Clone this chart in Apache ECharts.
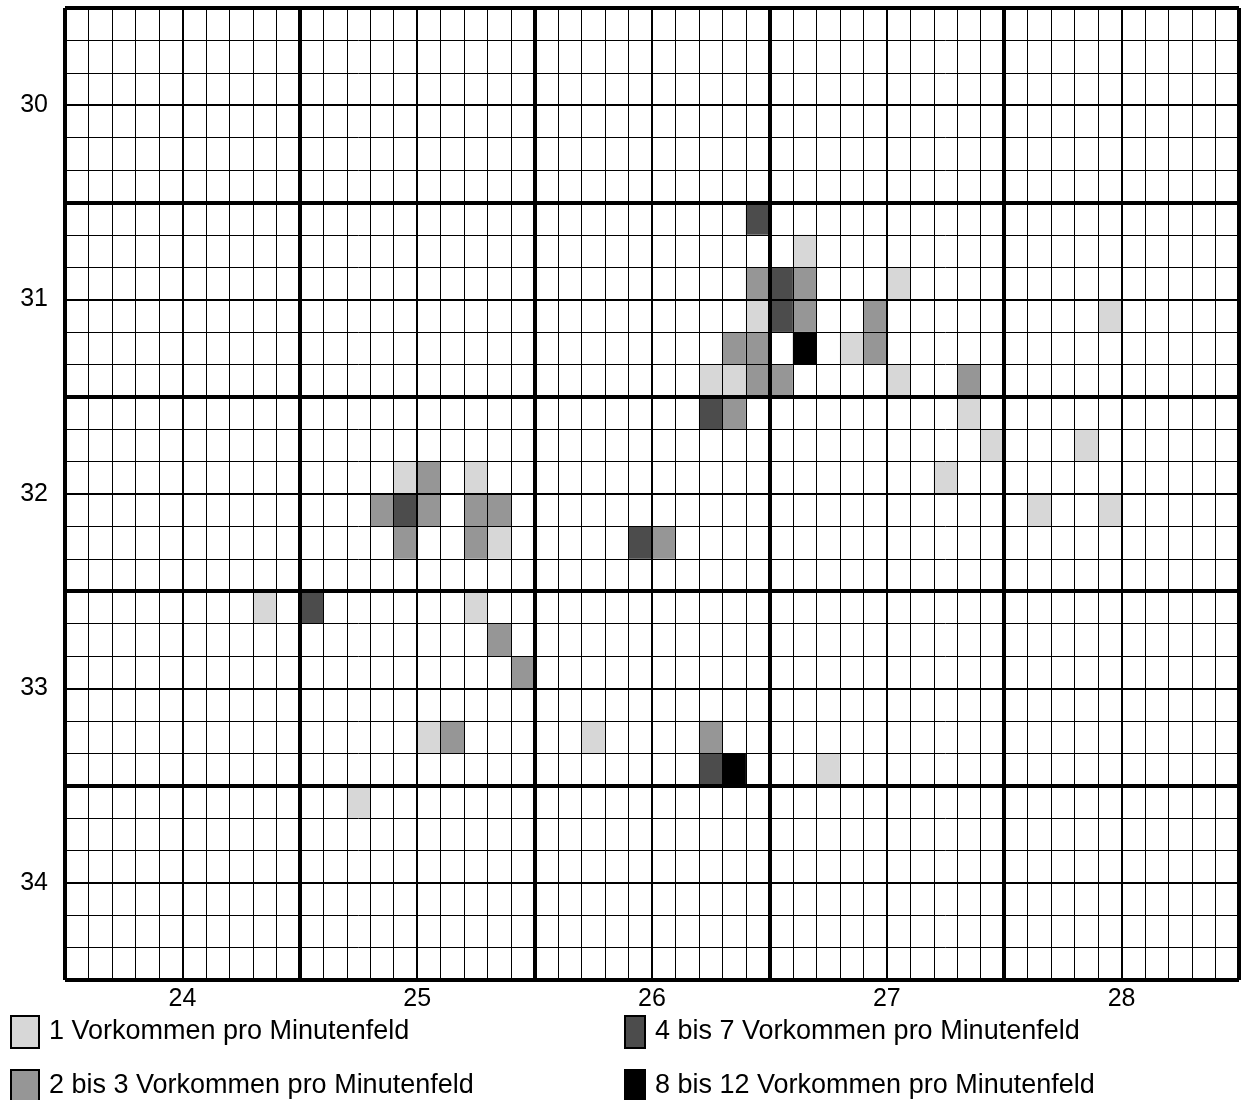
<!DOCTYPE html>
<html>
<head>
<meta charset="utf-8">
<title>Vorkommen pro Minutenfeld</title>
<script src="https://cdn.jsdelivr.net/npm/echarts@6/dist/echarts.min.js"></script>
<style>
  html, body { margin: 0; padding: 0; background: #fff; }
  #chart { width: 1241px; height: 1100px; }
</style>
</head>
<body>
<div id="chart"></div>
<script>
// tick labels
const xTicks = [24, 25, 26, 27, 28];
const yTicks = [30, 31, 32, 33, 34];

// cell centres [lon, lat], one array per class
const cells1 = [ // 1 Vorkommen
  [26.65, 30.75], [27.05, 30.917], [26.45, 31.083], [27.95, 31.083],
  [26.85, 31.25], [26.25, 31.417], [26.35, 31.417], [27.05, 31.417],
  [27.35, 31.583], [27.45, 31.75], [27.85, 31.75], [24.95, 31.917],
  [25.25, 31.917], [27.25, 31.917], [27.65, 32.083], [27.95, 32.083],
  [25.35, 32.25], [24.35, 32.583], [25.25, 32.583], [25.05, 33.25],
  [25.75, 33.25], [26.75, 33.417], [24.75, 33.583]
];
const cells2 = [ // 2 bis 3
  [26.45, 30.917], [26.65, 30.917], [26.65, 31.083], [26.95, 31.083],
  [26.35, 31.25], [26.45, 31.25], [26.95, 31.25], [26.45, 31.417],
  [26.55, 31.417], [27.35, 31.417], [26.35, 31.583], [25.05, 31.917],
  [24.85, 32.083], [25.05, 32.083], [25.25, 32.083], [25.35, 32.083],
  [24.95, 32.25], [25.25, 32.25], [26.05, 32.25], [25.35, 32.75],
  [25.45, 32.917], [25.15, 33.25], [26.25, 33.25]
];
const cells3 = [ // 4 bis 7
  [26.45, 30.583], [26.55, 30.917], [26.55, 31.083], [26.25, 31.583],
  [24.95, 32.083], [25.95, 32.25], [24.55, 32.583], [26.25, 33.417]
];
const cells4 = [ // 8 bis 12
  [26.65, 31.25], [26.35, 33.417]
];

const classNames = [
  '1 Vorkommen pro Minutenfeld',
  '2 bis 3 Vorkommen pro Minutenfeld',
  '4 bis 7 Vorkommen pro Minutenfeld',
  '8 bis 12 Vorkommen pro Minutenfeld'
];
const classColors = ['#d7d7d7', '#969696', '#4c4c4c', '#000000'];

const CELL_W = 0.1;      // degrees
const CELL_H = 1 / 6;    // degrees

function renderCell(params, api) {
  const c = api.coord([api.value(0), api.value(1)]);
  const s = api.size([CELL_W, CELL_H]);
  return {
    type: 'rect',
    shape: { x: c[0] - s[0] / 2, y: c[1] - s[1] / 2, width: s[0], height: s[1] },
    style: { fill: api.visual('color') }
  };
}

const font = 'Liberation Sans, Arial, sans-serif';

let myChart = echarts.init(document.getElementById('chart'));
let series = [cells1, cells2, cells3, cells4].map((d, i) => ({
  name: classNames[i],
  type: 'custom',
  renderItem: renderCell,
  data: d,
  z: 1,
  silent: true,
  itemStyle: { color: classColors[i] }
}));

let legendBase = {
  orient: 'vertical',
  icon: 'rect',
  selectedMode: false,
  padding: 0,
  height: 200,
  itemGap: 20,
  itemHeight: 32,
  itemStyle: { borderColor: '#000', borderWidth: 2 },
  textStyle: { fontFamily: font, fontSize: 27, color: '#000', padding: [0, 0, 0, 5] }
};

let option = {
  animation: false,
  backgroundColor: '#fff',
  grid: { left: 65, top: 8, width: 1174, height: 972, outerBoundsMode: 'none' },
  legend: [
    Object.assign({}, legendBase, {
      left: 10, top: 1015, itemWidth: 28,
      data: [classNames[0], classNames[1]]
    }),
    Object.assign({}, legendBase, {
      left: 624, top: 1015, itemWidth: 20,
      data: [classNames[2], classNames[3]]
    })
  ],
  xAxis: [
    {
      type: 'value', min: 23.5, max: 28.5, interval: 0.5, z: 3,
      axisLine: { show: false }, axisTick: { show: false },
      axisLabel: {
        margin: 7, fontFamily: font, fontSize: 25, color: '#000',
        formatter: v => xTicks.includes(v) ? String(v) : ''
      },
      splitLine: { show: true, lineStyle: { color: '#000', width: 2 } },
      minorTick: { show: false, splitNumber: 5 },
      minorSplitLine: { show: true, lineStyle: { color: '#000', width: 1 } }
    },
    {
      type: 'value', min: 23.5, max: 28.5, interval: 1, z: 4, position: 'top',
      axisLine: { show: false }, axisTick: { show: false }, axisLabel: { show: false },
      splitLine: { show: true, lineStyle: { color: '#000', width: 4 } }
    }
  ],
  yAxis: [
    {
      type: 'value', min: 29.5, max: 34.5, interval: 0.5, inverse: true, z: 3,
      axisLine: { show: false }, axisTick: { show: false },
      axisLabel: {
        margin: 17, fontFamily: font, fontSize: 25, color: '#000',
        formatter: v => yTicks.includes(v) ? String(v) : ''
      },
      splitLine: { show: true, lineStyle: { color: '#000', width: 2 } },
      minorTick: { show: false, splitNumber: 3 },
      minorSplitLine: { show: true, lineStyle: { color: '#000', width: 1 } }
    },
    {
      type: 'value', min: 29.5, max: 34.5, interval: 1, inverse: true, z: 4, position: 'right',
      axisLine: { show: false }, axisTick: { show: false }, axisLabel: { show: false },
      splitLine: { show: true, lineStyle: { color: '#000', width: 4 } }
    }
  ],
  series: series
};
myChart.setOption(option);
</script>
</body>
</html>
